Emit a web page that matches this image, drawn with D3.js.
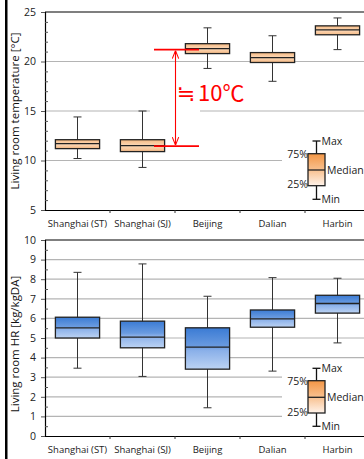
<!DOCTYPE html>
<html>
<head>
<meta charset="utf-8">
<script src="https://cdn.jsdelivr.net/npm/d3@7"></script>
<style>
  body { margin: 0; background: #fff; }
  svg { display: block; font-family: "Open Sans", sans-serif; }
</style>
</head>
<body>
<div id="chart"></div>
<script>
// data
var cities = ["Shanghai (ST)", "Shanghai (SJ)", "Beijing", "Dalian", "Harbin"];

var tempMin = [10.2, 9.3, 19.3, 18.0, 21.2];
var tempQ1  = [11.2, 10.9, 20.8, 19.9, 22.7];
var tempMed = [11.7, 11.5, 21.3, 20.4, 23.2];
var tempQ3  = [12.1, 12.1, 21.8, 20.9, 23.6];
var tempMax = [14.4, 15.0, 23.4, 22.6, 24.4];

var hrMin = [3.46, 3.04, 1.44, 3.31, 4.75];
var hrQ1  = [5.0, 4.5, 3.41, 5.55, 6.27];
var hrMed = [5.52, 5.04, 4.53, 5.98, 6.76];
var hrQ3  = [6.06, 5.86, 5.52, 6.43, 7.18];
var hrMax = [8.35, 8.78, 7.13, 8.08, 8.05];

var tempTicks = [5, 10, 15, 20, 25];
var hrTicks = [0, 1, 2, 3, 4, 5, 6, 7, 8, 9, 10];
var diffLevels = [21.2, 11.45];   // red annotation lines

var svgWidth = 364;
var svgHeight = 459;

var svg = d3.select("#chart")
    .append("svg")
    .attr("width", svgWidth)
    .attr("height", svgHeight);

var defs = svg.append("defs");

var blueGrad = defs.append("linearGradient")
    .attr("id", "blueGrad").attr("x1", 0).attr("y1", 0).attr("x2", 0).attr("y2", 1);
blueGrad.append("stop").attr("offset", "0%").attr("stop-color", "#3b7bd4");
blueGrad.append("stop").attr("offset", "45%").attr("stop-color", "#6a9be0");
blueGrad.append("stop").attr("offset", "55%").attr("stop-color", "#8ab0e9");
blueGrad.append("stop").attr("offset", "100%").attr("stop-color", "#bcd3f3");

var peachGrad = defs.append("linearGradient")
    .attr("id", "peachGrad").attr("x1", 0).attr("y1", 0).attr("x2", 0).attr("y2", 1);
peachGrad.append("stop").attr("offset", "0%").attr("stop-color", "#f6b981");
peachGrad.append("stop").attr("offset", "50%").attr("stop-color", "#fbd8b8");
peachGrad.append("stop").attr("offset", "100%").attr("stop-color", "#f6bb86");

var legGrad = defs.append("linearGradient")
    .attr("id", "legGrad").attr("x1", 0).attr("y1", 0).attr("x2", 0).attr("y2", 1);
legGrad.append("stop").attr("offset", "0%").attr("stop-color", "#f39645");
legGrad.append("stop").attr("offset", "50%").attr("stop-color", "#f8c08e");
legGrad.append("stop").attr("offset", "100%").attr("stop-color", "#fff3ea");

// page border line on the left
svg.append("rect")
    .attr("x", 5).attr("y", 0)
    .attr("width", 2.5).attr("height", svgHeight)
    .attr("fill", "#000");

var left = 45, right = 370;

var x = d3.scaleBand()
    .domain(cities)
    .range([left, right]);

function drawPanel(opts) {
    var g = svg.append("g");
    var y = d3.scaleLinear().domain(opts.domain).range([opts.bottom, opts.top]);

    // gridlines
    g.selectAll(".grid")
        .data(opts.ticks.slice(1, -1))
        .enter()
        .append("line")
        .attr("x1", left).attr("x2", svgWidth)
        .attr("y1", function(d) { return y(d); })
        .attr("y2", function(d) { return y(d); })
        .attr("stroke", "#b4b4b4")
        .attr("stroke-width", 1.2);

    // white boxes behind annotations
    opts.masks.forEach(function(m) {
        g.append("rect")
            .attr("x", m[0]).attr("y", m[1])
            .attr("width", m[2]).attr("height", m[3])
            .attr("fill", "#fff");
    });

    // top border
    g.append("line")
        .attr("x1", left).attr("x2", svgWidth)
        .attr("y1", y(opts.domain[1])).attr("y2", y(opts.domain[1]))
        .attr("stroke", "#000").attr("stroke-width", 1.2);

    // y axis
    var yAxis = d3.axisLeft(y).tickValues(opts.ticks).tickSize(4).tickFormat(d3.format("d"));
    var ya = g.append("g")
        .attr("transform", "translate(" + left + ",0)")
        .call(yAxis);
    ya.select(".domain").attr("stroke", "#000").attr("stroke-width", 1.2);
    ya.selectAll(".tick line").attr("stroke", "#555");
    ya.selectAll(".tick text")
        .attr("font-family", "Open Sans")
        .attr("font-size", "10.5px")
        .attr("fill", "#222")
        .attr("x", -9);

    // minor ticks inside
    g.append("g")
        .attr("transform", "translate(" + left + ",0)")
        .call(d3.axisRight(y).tickValues(opts.minor).tickSize(3).tickFormat(""))
        .call(function(s) {
            s.select(".domain").remove();
            s.selectAll("line").attr("stroke", "#555");
        });

    // x axis
    var xa = g.append("g")
        .attr("transform", "translate(0," + opts.bottom + ")")
        .call(d3.axisBottom(x).tickSize(0).tickPadding(10));
    xa.select(".domain").attr("stroke", "#000").attr("stroke-width", 1.2);
    xa.selectAll(".tick text")
        .attr("font-family", "Open Sans")
        .attr("font-size", "9.5px")
        .attr("fill", "#222");
    // category separators
    xa.selectAll(".sep")
        .data(cities.slice(1))
        .enter()
        .append("line")
        .attr("x1", function(d) { return x(d); })
        .attr("x2", function(d) { return x(d); })
        .attr("y1", 0).attr("y2", 3)
        .attr("stroke", "#333");

    // y title
    g.append("text")
        .attr("transform", "translate(19," + opts.titleY + ") rotate(-90)")
        .attr("text-anchor", "middle")
        .attr("font-family", "Open Sans")
        .attr("font-size", "11.5px")
        .attr("fill", "#111")
        .text(opts.title);

    // boxes
    var bw = x.bandwidth() * 0.68;
    var boxes = g.selectAll(".box")
        .data(cities)
        .enter()
        .append("g")
        .attr("transform", function(d) { return "translate(" + (x(d) + x.bandwidth() / 2) + ",0)"; });

    boxes.append("line")
        .attr("y1", function(d, i) { return y(opts.max[i]); })
        .attr("y2", function(d, i) { return y(opts.min[i]); })
        .attr("stroke", "#333");
    boxes.append("line")
        .attr("x1", -4).attr("x2", 4)
        .attr("y1", function(d, i) { return y(opts.max[i]); })
        .attr("y2", function(d, i) { return y(opts.max[i]); })
        .attr("stroke", "#333");
    boxes.append("line")
        .attr("x1", -4).attr("x2", 4)
        .attr("y1", function(d, i) { return y(opts.min[i]); })
        .attr("y2", function(d, i) { return y(opts.min[i]); })
        .attr("stroke", "#333");
    boxes.append("rect")
        .attr("x", -bw / 2).attr("width", bw)
        .attr("y", function(d, i) { return y(opts.q3[i]); })
        .attr("height", function(d, i) { return y(opts.q1[i]) - y(opts.q3[i]); })
        .attr("fill", opts.fill)
        .attr("stroke", "#222")
        .attr("stroke-width", 1.3);
    boxes.append("line")
        .attr("x1", -bw / 2).attr("x2", bw / 2)
        .attr("y1", function(d, i) { return y(opts.med[i]); })
        .attr("y2", function(d, i) { return y(opts.med[i]); })
        .attr("stroke", "#222")
        .attr("stroke-width", 1.3);

    return { g: g, y: y };
}

function drawLegend(g, cx, yMax, yQ3, yMed, yQ1, yMin) {
    var w = 17;
    g.append("line").attr("x1", cx).attr("x2", cx).attr("y1", yMax).attr("y2", yMin)
        .attr("stroke", "#111").attr("stroke-width", 1.3);
    [yMax, yMin].forEach(function(v) {
        g.append("line").attr("x1", cx - 4).attr("x2", cx + 4).attr("y1", v).attr("y2", v)
            .attr("stroke", "#111").attr("stroke-width", 1.3);
    });
    g.append("rect").attr("x", cx - w / 2).attr("y", yQ3)
        .attr("width", w).attr("height", yQ1 - yQ3)
        .attr("fill", "url(#legGrad)").attr("stroke", "#222").attr("stroke-width", 1.3);
    g.append("line").attr("x1", cx - w / 2).attr("x2", cx + w / 2).attr("y1", yMed).attr("y2", yMed)
        .attr("stroke", "#222").attr("stroke-width", 1.3);
    var lab = [
        ["Max", cx + 5, yMax, "start"],
        ["75%", cx - w / 2, yQ3 + 1, "end"],
        ["Median", cx + w / 2 + 2, yMed, "start"],
        ["25%", cx - w / 2, yQ1 - 1, "end"],
        ["Min", cx + 5, yMin, "start"]
    ];
    g.selectAll(".leglab")
        .data(lab)
        .enter()
        .append("text")
        .attr("x", function(d) { return d[1]; })
        .attr("y", function(d) { return d[2]; })
        .attr("dy", "0.35em")
        .attr("text-anchor", function(d) { return d[3]; })
        .attr("font-family", "Open Sans")
        .attr("font-size", "10.5px")
        .attr("fill", "#222")
        .text(function(d) { return d[0]; });
}

// top panel: temperature
var tempPanel = drawPanel({
    domain: [5, 25], top: 12, bottom: 210,
    ticks: tempTicks,
    minor: d3.range(6, 25).filter(function(v) { return v % 5 !== 0; }),
    min: tempMin, q1: tempQ1, med: tempMed, q3: tempQ3, max: tempMax,
    fill: "url(#peachGrad)",
    title: "Living room temperature [\u00b0C]", titleY: 111,
    masks: [[150, 104, 50, 14], [282, 130, 82, 76]]
});
drawLegend(tempPanel.g, 316.5, 141, 153.7, 170, 185.7, 199.3);

// red 10 degree annotation
var ty = tempPanel.y;
var red = tempPanel.g.append("g");
defs.append("marker")
    .attr("id", "arrow")
    .attr("viewBox", "0 0 10 10")
    .attr("refX", 10).attr("refY", 5)
    .attr("markerWidth", 8).attr("markerHeight", 8)
    .attr("markerUnits", "userSpaceOnUse")
    .attr("orient", "auto-start-reverse")
    .append("path")
    .attr("d", "M0,1 L10,5 L0,9")
    .attr("fill", "none")
    .attr("stroke", "#ff0000")
    .attr("stroke-width", 1.3);
red.selectAll(".lvl")
    .data(diffLevels)
    .enter()
    .append("line")
    .attr("x1", 154).attr("x2", 199)
    .attr("y1", function(d) { return ty(d); })
    .attr("y2", function(d) { return ty(d); })
    .attr("stroke", "#ff0000")
    .attr("stroke-width", 1.6);
red.append("line")
    .attr("x1", 175.5).attr("x2", 175.5)
    .attr("y1", ty(diffLevels[0]) + 1).attr("y2", ty(diffLevels[1]) - 1)
    .attr("stroke", "#ff0000")
    .attr("stroke-width", 1.1)
    .attr("marker-start", "url(#arrow)")
    .attr("marker-end", "url(#arrow)");
var tenText = red.append("text")
    .attr("x", 177).attr("y", 101)
    .attr("font-family", "Noto Sans CJK JP")
    .attr("fill", "#ff0000");
tenText.append("tspan")
    .attr("font-family", "DejaVu Sans")
    .attr("font-size", "22px")
    .attr("dy", 0)
    .text("\u2252");
tenText.append("tspan")
    .attr("x", 198)
    .attr("y", 101)
    .attr("font-size", "22px")
    .text("10\u2103");

// bottom panel: humidity ratio
var hrPanel = drawPanel({
    domain: [0, 10], top: 240, bottom: 436,
    ticks: hrTicks,
    minor: d3.range(0.5, 10, 1),
    min: hrMin, q1: hrQ1, med: hrMed, q3: hrQ3, max: hrMax,
    fill: "url(#blueGrad)",
    title: "Living room HR [kg/kgDA]", titleY: 344,
    masks: [[282, 364, 82, 70]]
});
drawLegend(hrPanel.g, 316.5, 368.3, 380.7, 397.3, 413, 426.3);
</script>
</body>
</html>
